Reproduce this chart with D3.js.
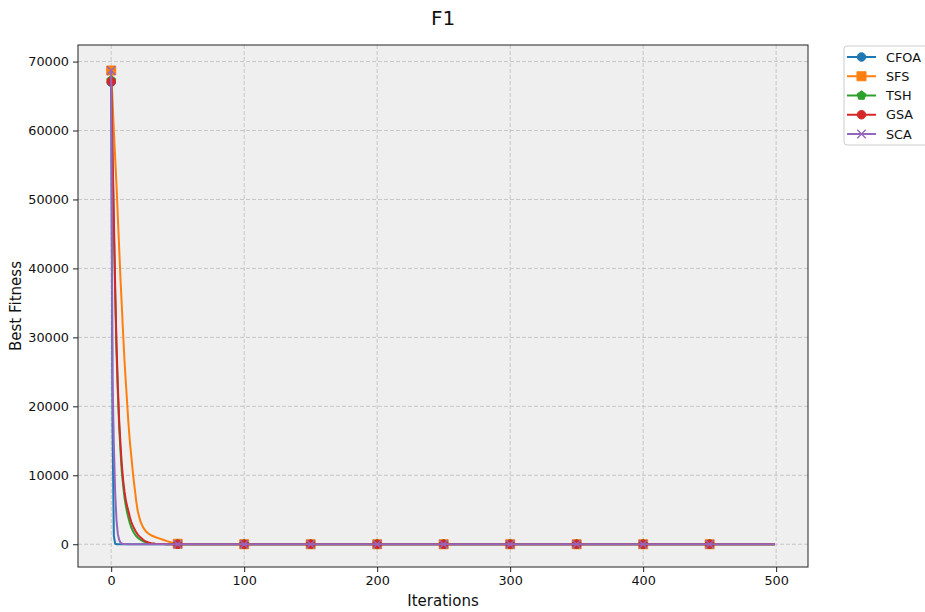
<!DOCTYPE html>
<html>
<head>
<meta charset="utf-8">
<script src="https://cdn.jsdelivr.net/npm/d3@7"></script>
<style>
  html, body { margin: 0; padding: 0; background: #ffffff; }
  svg { display: block; font-family: "DejaVu Sans", sans-serif; }
</style>
</head>
<body>
<svg id="chart" width="925" height="612"></svg>
<script>
// ---------------- DATA ----------------
const chartTitle = "F1";
const xLabel = "Iterations";
const yLabel = "Best Fitness";
const seriesNames = ["CFOA", "SFS", "TSH", "GSA", "SCA"];
const iterations = [0,1,2,3,4,5,6,7,8,9,10,11,12,13,14,15,16,17,18,19,20,
  22,24,26,28,30,33,36,39,42,46,50,55,60,70,80,100,150,200,250,300,350,400,450,499];
const cfoaValues = [67000,17000,1200,80,10,2,1,0.5,0.3,0.2,0.1,
  0.08,0.06,0.05,0.04,0.03,0.03,0.02,0.02,0.02,0.01,
  0.01,0.01,0.01,0.01,0.01,0.01,0.01,0.01,0.01,0.01,0.01,0.01,0.01,0.01,0.01,
  0.01,0.01,0.01,0.01,0.01,0.01,0.01,0.01,0.01];
const sfsValues = [68700,64500,60000,56000,52000,47500,43000,38500,34500,30500,26700,
  23500,20500,17500,15000,13000,11000,9200,7600,6000,4800,
  3300,2450,1900,1550,1300,1050,850,650,450,220,70,30,15,6,3,
  1,0.5,0.2,0.15,0.1,0.07,0.05,0.03,0.02];
const tshValues = [67300,56000,46000,36000,28000,22000,17000,13500,10500,8500,6800,
  5600,4600,3800,3100,2500,2050,1700,1400,1150,950,
  650,420,270,170,110,60,35,20,12,7,4,2,1,0.5,0.3,
  0.1,0.05,0.03,0.02,0.02,0.01,0.01,0.01,0.01];
const gsaValues = [67100,57000,47500,37500,29000,23000,18000,14500,11500,9300,7700,
  6400,5500,4800,4000,3300,2800,2400,2000,1700,1400,
  1000,650,400,250,150,80,45,25,15,8,5,3,1.5,0.8,0.5,
  0.2,0.1,0.05,0.04,0.03,0.02,0.02,0.01,0.01];
const scaValues = [68700,24000,14500,7500,3500,1500,650,250,100,50,30,
  20,14,10,7,5,3.5,2.5,2,1.5,1,
  0.8,0.6,0.5,0.4,0.3,0.25,0.2,0.18,0.15,0.12,0.1,0.08,0.07,0.05,0.04,
  0.03,0.02,0.02,0.01,0.01,0.01,0.01,0.01,0.01];
const xTicks = [0, 100, 200, 300, 400, 500];
const yTicks = [0, 10000, 20000, 30000, 40000, 50000, 60000, 70000];
const markEvery = 50;

// ---------------- STYLE ----------------
const colors = ["#1f77b4", "#ff7f0e", "#2ca02c", "#d62728", "#9467bd"];
const markerTypes = ["circle", "square", "pentagon", "circle", "x"];
const allValues = [cfoaValues, sfsValues, tshValues, gsaValues, scaValues];

const svg = d3.select("#chart");
const plot = { left: 78, right: 808, top: 45, bottom: 567 };

const x = d3.scaleLinear().domain([-24.95, 523.95]).range([plot.left, plot.right]);
const y = d3.scaleLinear().domain([-3300, 72400]).range([plot.bottom, plot.top]);

// background
svg.append("rect").attr("x", plot.left).attr("y", plot.top)
  .attr("width", plot.right - plot.left).attr("height", plot.bottom - plot.top)
  .attr("fill", "#efefef");

// grid
const grid = svg.append("g");
xTicks.forEach(t => grid.append("line")
  .attr("x1", x(t)).attr("x2", x(t)).attr("y1", plot.top).attr("y2", plot.bottom)
  .attr("stroke", "#bdbdbd").attr("stroke-width", 0.8).attr("stroke-dasharray", "4,2"));
yTicks.forEach(t => grid.append("line")
  .attr("y1", y(t)).attr("y2", y(t)).attr("x1", plot.left).attr("x2", plot.right)
  .attr("stroke", "#bdbdbd").attr("stroke-width", 0.8).attr("stroke-dasharray", "4,2"));

// clip
svg.append("clipPath").attr("id", "clip").append("rect")
  .attr("x", plot.left).attr("y", plot.top)
  .attr("width", plot.right - plot.left).attr("height", plot.bottom - plot.top);

function markerPath(type, s) {
  const r = s / 2;
  if (type === "circle") return d3.symbol(d3.symbolCircle, Math.PI * r * r)();
  if (type === "square") return `M${-r},${-r}H${r}V${r}H${-r}Z`;
  if (type === "pentagon") {
    const pts = d3.range(5).map(i => {
      const a = -Math.PI / 2 + i * 2 * Math.PI / 5;
      return [r * 1.1 * Math.cos(a), r * 1.1 * Math.sin(a)];
    });
    return "M" + pts.map(p => p.join(",")).join("L") + "Z";
  }
  if (type === "x") return `M${-r},${-r}L${r},${r}M${-r},${r}L${r},${-r}`;
}
function drawMarker(g, type, color, cx, cy, s) {
  const p = g.append("path").attr("d", markerPath(type, s))
    .attr("transform", `translate(${cx},${cy})`);
  if (type === "x") p.attr("fill", "none").attr("stroke", color).attr("stroke-width", 1.4);
  else p.attr("fill", color).attr("stroke", color).attr("stroke-width", 1);
}

const lineGen = d3.line().x(d => x(d[0])).y(d => y(d[1]));
const marks = svg.append("g").attr("clip-path", "url(#clip)");
seriesNames.forEach((name, i) => {
  const pts = iterations.map((it, k) => [it, allValues[i][k]]);
  const g = marks.append("g");
  g.append("path").datum(pts).attr("d", lineGen)
    .attr("fill", "none").attr("stroke", colors[i]).attr("stroke-width", 2)
    .attr("stroke-linejoin", "round");
  pts.filter(p => p[0] % markEvery === 0).forEach(p =>
    drawMarker(g, markerTypes[i], colors[i], x(p[0]), y(p[1]), markerTypes[i] === "square" ? 9 : 8.5));
});

// spines
svg.append("rect").attr("x", plot.left).attr("y", plot.top)
  .attr("width", plot.right - plot.left).attr("height", plot.bottom - plot.top)
  .attr("fill", "none").attr("stroke", "#222").attr("stroke-width", 1);

// axes
const xAxis = svg.append("g").attr("transform", `translate(0,${plot.bottom})`)
  .call(d3.axisBottom(x).tickValues(xTicks).tickFormat(d3.format("d")).tickSizeOuter(0).tickSize(5).tickPadding(4));
const yAxis = svg.append("g").attr("transform", `translate(${plot.left},0)`)
  .call(d3.axisLeft(y).tickValues(yTicks).tickFormat(d3.format("d")).tickSizeOuter(0).tickSize(5).tickPadding(4));
[xAxis, yAxis].forEach(a => {
  a.select(".domain").remove();
  a.selectAll("line").attr("stroke", "#222");
  a.selectAll("text").attr("font-size", "12.8px").attr("fill", "#111")
    .attr("font-family", "DejaVu Sans, sans-serif");
});

// title & labels
svg.append("text").attr("x", 443).attr("y", 25).attr("text-anchor", "middle")
  .attr("font-size", "20px").attr("fill", "#111").text(chartTitle);
svg.append("text").attr("x", 443).attr("y", 606).attr("text-anchor", "middle")
  .attr("font-size", "15px").attr("fill", "#111").text(xLabel);
svg.append("text").attr("transform", `translate(21,${(plot.top + plot.bottom) / 2}) rotate(-90)`)
  .attr("text-anchor", "middle").attr("font-size", "15px").attr("fill", "#111").text(yLabel);

// legend
const leg = svg.append("g");
leg.append("rect").attr("x", 844).attr("y", 46).attr("width", 100).attr("height", 99)
  .attr("rx", 3).attr("fill", "#ffffff").attr("fill-opacity", 0.8)
  .attr("stroke", "#cccccc").attr("stroke-width", 1);
seriesNames.forEach((name, i) => {
  const cy = 57 + i * 19.25;
  leg.append("line").attr("x1", 847).attr("x2", 876).attr("y1", cy).attr("y2", cy)
    .attr("stroke", colors[i]).attr("stroke-width", 2);
  drawMarker(leg, markerTypes[i], colors[i], 861.5, cy, markerTypes[i] === "square" ? 9 : 8.5);
  leg.append("text").attr("x", 886).attr("y", cy + 4.5).attr("font-size", "12.8px")
    .attr("fill", "#111").text(name);
});
</script>
</body>
</html>
